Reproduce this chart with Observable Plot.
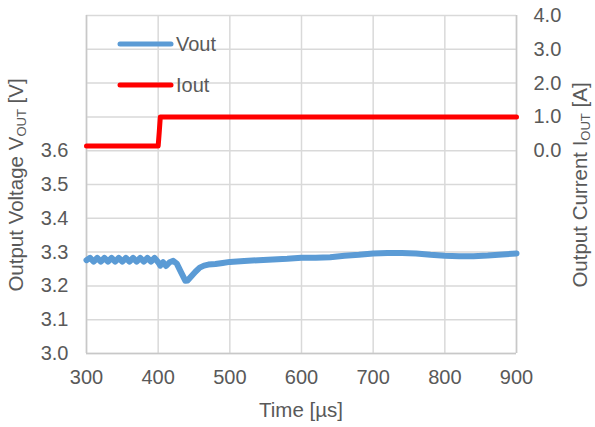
<!DOCTYPE html>
<html><head><meta charset="utf-8">
<script src="https://cdn.jsdelivr.net/npm/d3@7"></script>
<script src="https://cdn.jsdelivr.net/npm/@observablehq/plot@0.6"></script>
<style>body{margin:0;background:#fff} #chart{width:595px;height:427px}</style>
</head><body><div id="chart"></div>
<script>
const voutTime = [300,305,310,315,320,325,330,335,340,345,350,355,360,365,370,375,380,385,390,395,400,403,407,411,416,421,426,432,438,441,446,452,458,464,470,480,490,500,520,540,560,580,600,620,640,660,680,700,720,740,760,780,800,820,840,860,880,900];
const voutValue = [3.276,3.283,3.272,3.283,3.272,3.283,3.272,3.283,3.272,3.283,3.272,3.283,3.272,3.283,3.272,3.283,3.272,3.283,3.272,3.283,3.270,3.260,3.270,3.259,3.270,3.274,3.266,3.240,3.215,3.216,3.228,3.242,3.254,3.260,3.263,3.265,3.268,3.271,3.274,3.276,3.278,3.280,3.283,3.283,3.285,3.289,3.292,3.296,3.297,3.297,3.296,3.292,3.289,3.288,3.288,3.290,3.293,3.296];
const ioutTime = [300,400,401.5,403,900];
const ioutValue = [0.14,0.14,0.55,1.0,1.0];
const xTicks = [300,400,500,600,700,800,900];
const leftTicks = [3.0,3.1,3.2,3.3,3.4,3.5,3.6];
const rightTicks = [0,1,2,3,4];
const gridY = [3.0,3.1,3.2,3.3,3.4,3.5,3.6,3.7,3.8,3.9,4.0];
const iToV = i => 3.6 + i / 10;

const vout = voutTime.map((t, k) => ({t, v: voutValue[k]}));
const iout = ioutTime.map((t, k) => ({t, v: iToV(ioutValue[k])}));

const FONT = "Liberation Sans, Arial, sans-serif";
const TXT = "#595959";

const svg = Plot.plot({
  width: 595, height: 427,
  marginLeft: 86, marginRight: 79, marginTop: 15, marginBottom: 74,
  style: {fontFamily: FONT, fontSize: "20px", color: TXT, background: "#fff", overflow: "visible"},
  x: {domain: [300, 900]},
  y: {domain: [3.0, 4.0]},
  marks: [
    Plot.ruleX(xTicks, {stroke: "#d9d9d9", strokeWidth: 1.5}),
    Plot.ruleY(gridY, {stroke: "#d9d9d9", strokeWidth: 1.5}),
    Plot.ruleX([300, 900], {stroke: "#c8c8c8", strokeWidth: 1.5}),
    Plot.ruleY([3.0], {stroke: "#c8c8c8", strokeWidth: 1.5}),
    Plot.axisX({ticks: xTicks, tickSize: 0, tickPadding: 16, label: null, tickFormat: d => String(d), fill: TXT}),
    Plot.axisY({ticks: leftTicks, tickSize: 0, tickPadding: 18, label: null, tickFormat: d => d.toFixed(1), fill: TXT}),
    Plot.axisY({anchor: "right", ticks: rightTicks.map(iToV), tickSize: 0, tickPadding: 17, label: null,
      tickFormat: d => (Math.round((d - 3.6) * 10)).toFixed(1), fill: TXT}),
    Plot.line(vout, {x: "t", y: "v", stroke: "#5b9bd5", strokeWidth: 6, strokeLinejoin: "round"}),
    Plot.line(iout, {x: "t", y: "v", stroke: "#ff0000", strokeWidth: 5, strokeLinejoin: "round"})
  ]
});

const s = d3.select(svg);
// legend
const legend = [
  {name: "Vout", color: "#5b9bd5", y: 44},
  {name: "Iout", color: "#ff0000", y: 85}
];
legend.forEach(l => {
  s.append("line").attr("x1", 120).attr("x2", 171).attr("y1", l.y).attr("y2", l.y)
    .attr("stroke", l.color).attr("stroke-width", 5).attr("stroke-linecap", "round");
  s.append("text").attr("x", 176).attr("y", l.y).attr("dy", "0.36em").attr("text-anchor", "start")
    .attr("font-family", FONT).attr("font-size", 20).attr("fill", TXT).text(l.name);
});
// axis titles
function title(x, y, rot, main, sub, tail) {
  const t = s.append("text").attr("transform", `translate(${x},${y})${rot ? " rotate(-90)" : ""}`)
    .attr("text-anchor", "middle").attr("font-family", FONT).attr("font-size", 20.5).attr("fill", TXT);
  t.append("tspan").text(main);
  if (sub) {
    t.append("tspan").attr("font-size", 13).attr("dy", 3).text(sub);
    t.append("tspan").attr("dy", -3).text(tail);
  }
  return t;
}
title(23, 185, true, "Output Voltage V", "OUT", " [V]");
title(587, 185, true, "Output Current I", "OUT", " [A]");
title(301, 417, false, "Time [µs]");

document.getElementById("chart").appendChild(svg);
</script></body></html>
